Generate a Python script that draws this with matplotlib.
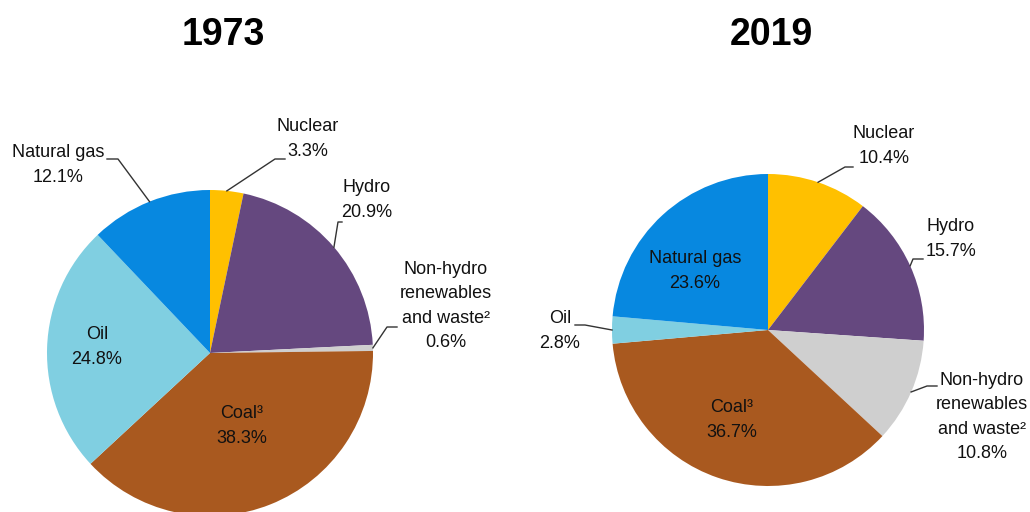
import numpy as np
import matplotlib
matplotlib.use("Agg")
from matplotlib import pyplot as plt

W, H = 1030, 512

sources = ["Nuclear", "Hydro", "Non-hydro\nrenewables\nand waste\u00b2", "Coal\u00b3", "Oil", "Natural gas"]
share_1973 = [3.3, 20.9, 0.6, 38.3, 24.8, 12.1]
share_2019 = [10.4, 15.7, 10.8, 36.7, 2.8, 23.6]
colors = ["#FFC000", "#65487F", "#CFCFCF", "#A9591F", "#80CFE1", "#0788E0"]

# layout in pixels (y from top); leader = (start x, start y, elbow dx) or None
pies = [
    dict(year="1973", vals=share_1973, cx=210, cy=353, r=163, tx=223,
         pos=[(308, 139), (367, 200), (446, 306), (242, 426), (97, 347), (58, 165)],
         leaders=[(285, 159, -10), (342, 222, -4), (397, 327, -10), None, None, (107, 159, 11)]),
    dict(year="2019", vals=share_2019, cx=768, cy=330, r=156, tx=771,
         pos=[(884, 146), (951, 239), (982, 417), (732, 420), (560, 331), (695, 271)],
         leaders=[(853, 167, -8), (923, 259, -10), (937, 386, -10), None, (575, 325, 10), None]),
]

fig = plt.figure(figsize=(W / 100, H / 100), dpi=100)
ax = fig.add_axes([0, 0, 1, 1])

def fy(y):
    return H - y

txt = dict(family=["Liberation Sans", "DejaVu Sans"], fontsize=13, color="#111111",
           ha="center", va="center", linespacing=1.55)

for p in pies:
    wedges, _ = ax.pie(p["vals"], colors=colors, startangle=90, counterclock=False,
                       center=(p["cx"], fy(p["cy"])), radius=p["r"],
                       wedgeprops=dict(linewidth=0))
    for w, name, v, (x, y), ld in zip(wedges, sources, p["vals"], p["pos"], p["leaders"]):
        ax.text(x, fy(y), f"{name}\n{v:.1f}%", **txt)
        if ld is None:
            continue
        mid = np.deg2rad((w.theta1 + w.theta2) / 2)
        ex = p["cx"] + p["r"] * np.cos(mid)
        ey = fy(p["cy"]) + p["r"] * np.sin(mid)
        sx, sy, dx = ld
        ax.plot([sx, sx + dx, ex], [fy(sy), fy(sy), ey], color="#333333", lw=1)
    ax.text(p["tx"], fy(35), p["year"],
            family=["Liberation Sans Narrow", "Liberation Sans", "DejaVu Sans"],
            fontsize=27, fontweight="bold", ha="center", va="center")

ax.set_xlim(0, W)
ax.set_ylim(0, H)
ax.set_aspect("equal")
ax.axis("off")
fig.savefig("out.png", dpi=100)
